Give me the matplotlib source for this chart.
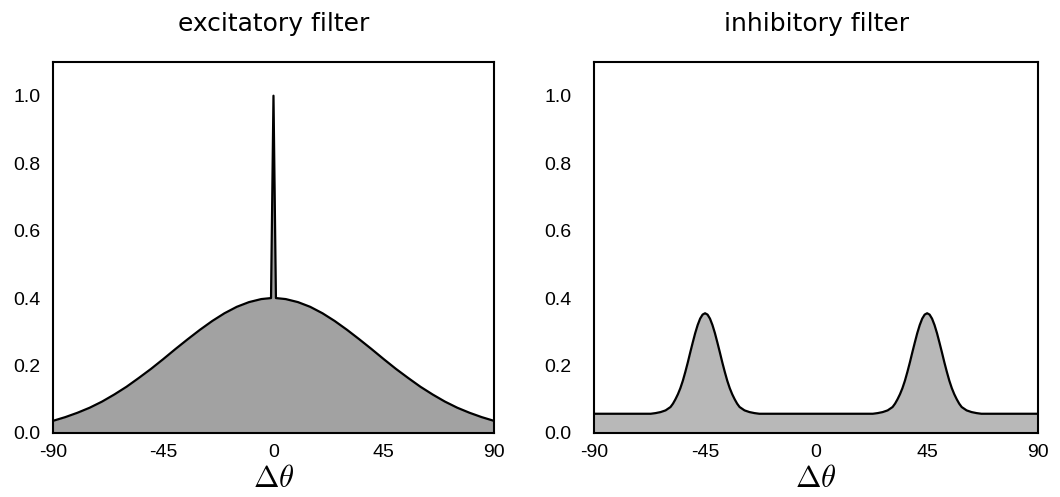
# excitatory / inhibitory orientation filters
import numpy as np
import matplotlib.pyplot as plt

# excitatory filter
exc_theta = [-90, -85, -80, -75, -70, -65, -60, -55, -50, -45, -40, -35, -30, -25, -20, -15, -10, -5,
             -1, 0, 1,
             5, 10, 15, 20, 25, 30, 35, 40, 45, 50, 55, 60, 65, 70, 75, 80, 85, 90]
exc_val = [0.036, 0.047, 0.060, 0.075, 0.093, 0.114, 0.137, 0.163, 0.190, 0.219, 0.249, 0.278, 0.306,
           0.332, 0.355, 0.374, 0.388, 0.397,
           0.400, 1.000, 0.400,
           0.397, 0.388, 0.374, 0.355, 0.332, 0.306, 0.278, 0.249, 0.219, 0.190, 0.163, 0.137,
           0.114, 0.093, 0.075, 0.060, 0.047, 0.036]

# inhibitory filter: one bump, read relative to its centre, and the two centres
bump_off = [-22, -20, -18, -16, -14, -13, -12, -11, -10, -9, -8, -7, -6, -5, -4, -3, -2, -1, 0,
            1, 2, 3, 4, 5, 6, 7, 8, 9, 10, 11, 12, 13, 14, 16, 18, 20, 22]
bump_val = [0.057, 0.059, 0.062, 0.067, 0.077, 0.087, 0.100, 0.115, 0.133, 0.155, 0.181, 0.209,
            0.239, 0.268, 0.296, 0.320, 0.339, 0.351, 0.355,
            0.351, 0.339, 0.320, 0.296, 0.268, 0.239, 0.209, 0.181, 0.155, 0.133, 0.115, 0.100,
            0.087, 0.077, 0.067, 0.062, 0.059, 0.057]
bump_centres = [-45, 45]
inh_base = 0.057

xticks = [-90, -45, 0, 45, 90]
yticks = [0.0, 0.2, 0.4, 0.6, 0.8, 1.0]

inh_theta = [-90]
inh_val = [inh_base]
for c in bump_centres:
    inh_theta += [c + d for d in bump_off]
    inh_val += bump_val
inh_theta.append(90)
inh_val.append(inh_base)

plt.rcParams['mathtext.fontset'] = 'cm'

fig = plt.figure(figsize=(10.6, 4.97), dpi=100)
ax1 = fig.add_axes([0.050, 0.1288, 0.416, 0.7465])
ax2 = fig.add_axes([0.5604, 0.1288, 0.419, 0.7465])

panels = [(ax1, exc_theta, exc_val, 'excitatory filter', '#a2a2a2', 9),
          (ax2, inh_theta, inh_val, 'inhibitory filter', '#b8b8b8', 16)]

for ax, th, v, title, fc, ypad in panels:
    ax.fill_between(th, 0, v, color=fc, lw=0)
    ax.plot(th, v, color='black', lw=1.6)
    ax.set_xlim(-90, 90)
    ax.set_ylim(0, 1.1)
    ax.set_xticks(xticks)
    ax.set_xticklabels([str(t) for t in xticks], family='Liberation Sans', fontsize=14)
    ax.set_yticks(yticks)
    ax.set_yticklabels(['%.1f' % t for t in yticks], family='Liberation Sans', fontsize=14)
    ax.tick_params(axis='x', length=0, pad=8)
    ax.tick_params(axis='y', length=0, pad=ypad)
    for s in ax.spines.values():
        s.set_linewidth(1.5)
    ax.set_title(title, fontsize=18, pad=22, family='DejaVu Sans')
    ax.set_xlabel(r'$\Delta\theta$', fontsize=22, labelpad=2)

fig.savefig('out.png', dpi=100)
